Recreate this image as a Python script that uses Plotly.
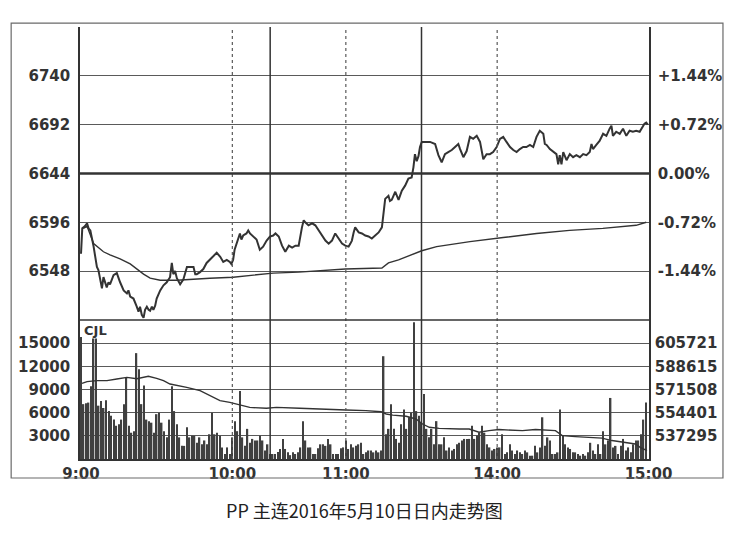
import plotly.graph_objects as go

# PP main contract, 2016-05-10 intraday (minutes since 9:00, trading time only)
prev_settle = 6644

price_min = [0, 0.5, 1.5, 2.4, 3, 3.7, 5, 6.3, 6.9, 8.3, 8.9, 9.6, 10.2, 10.9, 11.5, 12.9, 14.2, 15.5,
             16.9, 18.2, 18.8, 19.5, 20.8, 22.1, 22.8, 23.4, 24.1, 24.8, 25.4, 26.1, 26.8, 27.4, 28.1,
             28.7, 29.4, 30, 31.4, 32.7, 34, 35.3, 36, 36.6, 37.3, 38, 39.3, 40.6, 41.3, 42, 43.3, 44.6,
             45.3, 45.9, 47.2, 48.5, 49.8, 51.1, 52.5, 53.8, 55.2, 56.4, 57.8, 59, 59.6, 60.3, 60.9,
             61.6, 63, 63.6, 64.3, 65.6, 66.3, 67, 68.3, 69.6, 70.9, 72.2, 73.6, 74.9, 76.2, 77.1, 78.4,
             79.7, 81, 82.4, 83.7, 85, 86.3, 87, 87.6, 88.3, 88.9, 90.2, 91.6, 92.9, 94.2, 95.6, 96.9,
             98.2, 99.5, 100.8, 102.1, 103.5, 104.8, 106.1, 106.8, 107.4, 108.1, 108.7, 110.1, 111.4,
             112.7, 114, 115.3, 116.7, 118, 119.3, 120, 120.6, 121.9, 122.5, 123.2, 124.6, 125.9, 127.2,
             128.5, 129.8, 131.1, 131.8, 132.4, 133.1, 133.8, 134.4, 135.1, 136.4, 138.4, 140.4, 141.7,
             143, 144.3, 145.6, 147, 148.3, 149.6, 150.3, 151.6, 152.9, 154.2, 155.5, 156.9, 158.2,
             159.5, 160.8, 162.1, 163.4, 164.8, 166.1, 167.4, 168.7, 170.1, 171.4, 172.7, 174, 175.3,
             176.6, 178, 179.3, 180.6, 181.9, 183.3, 183.9, 184.6, 185.9, 187.2, 188.5, 189.2, 189.8,
             190.5, 191.2, 192.5, 193.8, 195.1, 196.4, 197.8, 199.1, 200.4, 201.7, 202.4, 203, 204.3,
             205.6, 207, 208.3, 209.6, 210.3, 210.9, 212.2, 213.6, 214.9, 216.2, 217.5, 218.8, 220.1,
             221.5, 222.8, 223.4, 224.1, 224.7]
price_val = [6565, 6590, 6592, 6595, 6590, 6588, 6572, 6552, 6549, 6531, 6542, 6535, 6532, 6537, 6535,
             6544, 6546, 6537, 6529, 6526, 6529, 6523, 6521, 6513, 6508, 6513, 6505, 6502, 6510, 6513,
             6510, 6509, 6513, 6510, 6514, 6521, 6529, 6534, 6537, 6542, 6556, 6545, 6548, 6541, 6535,
             6540, 6547, 6552, 6552, 6552, 6545, 6545, 6547, 6550, 6556, 6559, 6562, 6566, 6562, 6557,
             6559, 6557, 6555, 6559, 6569, 6575, 6585, 6579, 6583, 6585, 6588, 6585, 6582, 6579, 6569,
             6572, 6578, 6582, 6583, 6585, 6582, 6573, 6567, 6573, 6571, 6573, 6573, 6584, 6591, 6598,
             6596, 6593, 6595, 6593, 6588, 6583, 6578, 6575, 6578, 6585, 6580, 6575, 6573, 6572, 6575,
             6578, 6586, 6591, 6586, 6585, 6583, 6582, 6580, 6583, 6586, 6591, 6606, 6619, 6622, 6617,
             6618, 6626, 6618, 6627, 6632, 6639, 6640, 6650, 6663, 6656, 6661, 6670, 6675, 6675, 6675,
             6673, 6662, 6655, 6663, 6665, 6667, 6670, 6673, 6668, 6660, 6666, 6680, 6678, 6681, 6675,
             6658, 6663, 6663, 6665, 6670, 6678, 6680, 6675, 6670, 6667, 6665, 6668, 6670, 6670, 6672,
             6670, 6680, 6686, 6683, 6673, 6672, 6668, 6665, 6663, 6653, 6662, 6653, 6665, 6657, 6663,
             6660, 6662, 6660, 6663, 6662, 6665, 6673, 6668, 6672, 6676, 6683, 6681, 6688, 6691, 6681,
             6685, 6683, 6688, 6681, 6686, 6685, 6686, 6685, 6690, 6693, 6694, 6692]

avg_min = [0.9, 2.4, 5, 6.6, 8.9, 11.5, 15.5, 19.5, 22.1, 24.8, 27.4, 31.4, 38, 43.3, 51.1, 60.3, 68.3,
           76.2, 86.3, 104.8, 119.3, 121.9, 125.9, 131.1, 135.1, 141, 154.2, 167.4, 180.6, 193.7, 206.9,
           220.1, 224.1]
avg_val = [6590, 6592, 6575, 6572, 6567, 6564, 6560, 6555, 6550, 6545, 6541, 6539, 6539, 6540, 6541,
           6542, 6544, 6546, 6547, 6550, 6551, 6556, 6559, 6564, 6568, 6572, 6577, 6581, 6585, 6588,
           6590, 6593, 6596]

volume = [15800, 7100, 7200, 7300, 9400, 15600, 15600, 6900, 7500, 6600, 7600, 6200, 5600, 5100, 4300,
          4500, 5100, 7100, 10500, 4300, 3400, 3600, 13700, 11600, 7100, 9500, 5100, 4900, 4700, 3400,
          5800, 6000, 4700, 3600, 2800, 5100, 9400, 6200, 4500, 2800, 1700, 1700, 4100, 2800, 3000,
          3000, 2100, 2800, 1900, 2400, 1900, 3200, 6000, 3200, 3400, 3000, 1500, 650, 1500, 650,
          2800, 4900, 3600, 8800, 2800, 1700, 3900, 2100, 2600, 2400, 2400, 3000, 2400, 1100, 1900,
          650, 650, 650, 900, 1300, 2600, 1300, 860, 500, 860, 650, 860, 1500, 4900, 2400,
          1500, 1500, 650, 650, 1400, 1900, 1900, 1700, 2600, 1900, 650, 650, 650, 1400, 1500,
          2400, 1300, 1900, 1500, 1700, 1900, 2100, 650, 860, 1100, 1100, 860, 1100, 860, 1100,
          13300, 3200, 3900, 7100, 3900, 2600, 2100, 4500, 6400, 3900, 5400, 6000, 17700, 6200, 5600,
          4700, 8400, 3900, 2800, 3900, 1900, 4900, 1900, 1900, 2800, 1100, 1500, 1100, 1300, 1900,
          2100, 2400, 2600, 2600, 2600, 4300, 2600, 3000, 3400, 4300, 3400, 1900, 1500, 1100, 1300,
          1500, 1500, 3200, 650, 860, 1900, 1100, 650, 1100, 860, 650, 1100, 860, 430, 430,
          1700, 860, 1500, 5400, 1700, 2800, 2400, 650, 650, 860, 6400, 3000, 1900, 1500, 1300,
          860, 860, 650, 430, 650, 430, 860, 2100, 1100, 650, 1900, 650, 3600, 1900, 2400,
          7900, 1500, 1700, 650, 1700, 2600, 1100, 1500, 860, 1900, 2400, 2400, 3200, 5100, 7300]
vol_min = list(range(len(volume)))

oi_min = [0.4, 2.4, 6.3, 10.3, 14.2, 18.2, 22.1, 24.8, 26.7, 30, 32.7, 35.3, 37.9, 41.9, 47.2, 51.1, 55.1,
          59, 61.7, 64.3, 66.9, 73.5, 77.5, 86.7, 97.2, 105.1, 113, 119, 121, 123.6, 128.9, 132.8,
          135.4, 138.1, 142, 146, 150, 153.9, 157.8, 161.8, 165.7, 175, 180.2, 188.1, 190.8, 196,
          206.6, 210.5, 214.9, 219.8, 221.7, 224.4]
oi_val = [576000, 577300, 578000, 578000, 579200, 580400, 579400, 580400, 581200, 579700, 578000, 575500,
          574300, 573000, 570600, 566900, 563300, 562000, 560700, 559600, 558300, 557600, 558300,
          557600, 556600, 556300, 555900, 555100, 553400, 552600, 551700, 549700, 546000, 543600,
          542800, 542300, 542300, 542300, 539900, 541100, 541900, 541100, 541900, 541100, 537400,
          536700, 535600, 533800, 532700, 531300, 528800, 526400]

price_ticks = [6548, 6596, 6644, 6692, 6740]
pct_labels = ["-1.44%", "-0.72%", "0.00%", "+0.72%", "+1.44%"]
vol_ticks = [3000, 6000, 9000, 12000, 15000]
oi_ticks = [537295, 554401, 571508, 588615, 605721]
time_ticks = [0, 60, 105, 165, 225]
time_labels = ["9:00", "10:00", "11:00", "14:00", "15:00"]
dotted_lines = [60, 105, 165]   # 10:00, 11:00, 14:00
break_lines = [75, 135]         # 10:15 / 10:30, 11:30 / 13:30

ink = "#333333"
grid = "#5a5a5a"
tfont = dict(family="DejaVu Sans", size=15, color=ink, weight="bold")
split = 0.322

fig = go.Figure()
fig.add_trace(go.Scatter(x=price_min, y=price_val, mode="lines", line=dict(color=ink, width=2),
                         xaxis="x", yaxis="y", hoverinfo="x+y"))
fig.add_trace(go.Scatter(x=avg_min, y=avg_val, mode="lines", line=dict(color=ink, width=1.4),
                         xaxis="x", yaxis="y2"))
fig.add_trace(go.Bar(x=vol_min, y=volume, marker=dict(color="#404040", line=dict(width=0)),
                     xaxis="x", yaxis="y3"))
fig.add_trace(go.Scatter(x=oi_min, y=oi_val, mode="lines", line=dict(color=ink, width=1.4),
                         xaxis="x", yaxis="y4"))

# volume axis and open-interest axis share the same grid
vol_top = 18000
oi_step = (oi_ticks[-1] - oi_ticks[0]) / 4
oi_low = oi_ticks[0] - oi_step * vol_ticks[0] / 3000
oi_high = oi_low + vol_top * oi_step / 3000

shapes = []
for m in dotted_lines:
    shapes.append(dict(type="line", xref="x", yref="paper", x0=m, x1=m, y0=0, y1=1,
                       line=dict(color=grid, width=1.2, dash="dot")))
for m in break_lines:
    shapes.append(dict(type="line", xref="x", yref="paper", x0=m, x1=m, y0=0, y1=1,
                       line=dict(color=ink, width=1.5)))
shapes.append(dict(type="line", xref="paper", yref="y", x0=0, x1=1, y0=prev_settle, y1=prev_settle,
                   line=dict(color=ink, width=2.6)))
shapes.append(dict(type="line", xref="paper", yref="paper", x0=0, x1=1, y0=split, y1=split,
                   line=dict(color=ink, width=1.5)))
shapes.append(dict(type="rect", xref="paper", yref="paper", x0=-0.121, x1=1.130, y0=-0.044, y1=1.009,
                   line=dict(color="#6a6a6a", width=1.2)))

fig.update_layout(
    width=751, height=533,
    margin=dict(l=80, r=102, t=27, b=74),
    paper_bgcolor="white", plot_bgcolor="white",
    showlegend=False, bargap=0.42,
    shapes=shapes,
    xaxis=dict(domain=[0, 1], range=[-0.4, 225.2], anchor="y3", tickvals=time_ticks,
               ticktext=time_labels, tickfont=tfont, showgrid=False, zeroline=False,
               showline=True, linecolor=ink, linewidth=1.5, ticks="", ticklabelstandoff=0),
    yaxis=dict(domain=[split, 1], range=[6500, 6788], anchor="x", tickvals=price_ticks,
               tickfont=tfont, showgrid=True, gridcolor=grid, gridwidth=1, zeroline=False,
               showline=True, linecolor=ink, linewidth=1.5, ticks="", ticklabelstandoff=5),
    yaxis2=dict(overlaying="y", side="right", range=[6500, 6788], anchor="x", tickvals=price_ticks,
                ticktext=pct_labels, tickfont=tfont, showgrid=False, zeroline=False,
                showline=True, linecolor=ink, linewidth=1.5, ticks="", ticklabelstandoff=4),
    yaxis3=dict(domain=[0, split], range=[0, vol_top], anchor="x", tickvals=vol_ticks,
                tickformat="d", tickfont=tfont, showgrid=True, gridcolor=grid, gridwidth=1,
                zeroline=False, showline=True, linecolor=ink, linewidth=1.5, ticks="",
                ticklabelstandoff=5),
    yaxis4=dict(overlaying="y3", side="right", range=[oi_low, oi_high], anchor="x", tickvals=oi_ticks,
                tickformat="d", tickfont=tfont, showgrid=False, zeroline=False,
                showline=True, linecolor=ink, linewidth=1.5, ticks="", ticklabelstandoff=1),
    annotations=[
        dict(text="CJL", xref="paper", yref="paper", x=0, y=split, xanchor="left", yanchor="top",
             xshift=2, yshift=-1, showarrow=False,
             font=dict(family="DejaVu Sans", size=13, color=ink, weight="bold")),
        dict(text="PP 主连2016年5月10日日内走势图", xref="paper", yref="paper", x=0.5, y=-0.118,
             xanchor="center", yanchor="middle", showarrow=False,
             font=dict(family="Noto Sans CJK SC", size=18, color="#222")),
    ],
)

fig.write_html("out.html", config={"displayModeBar": False},
               post_script="document.body.style.margin = '0';")
